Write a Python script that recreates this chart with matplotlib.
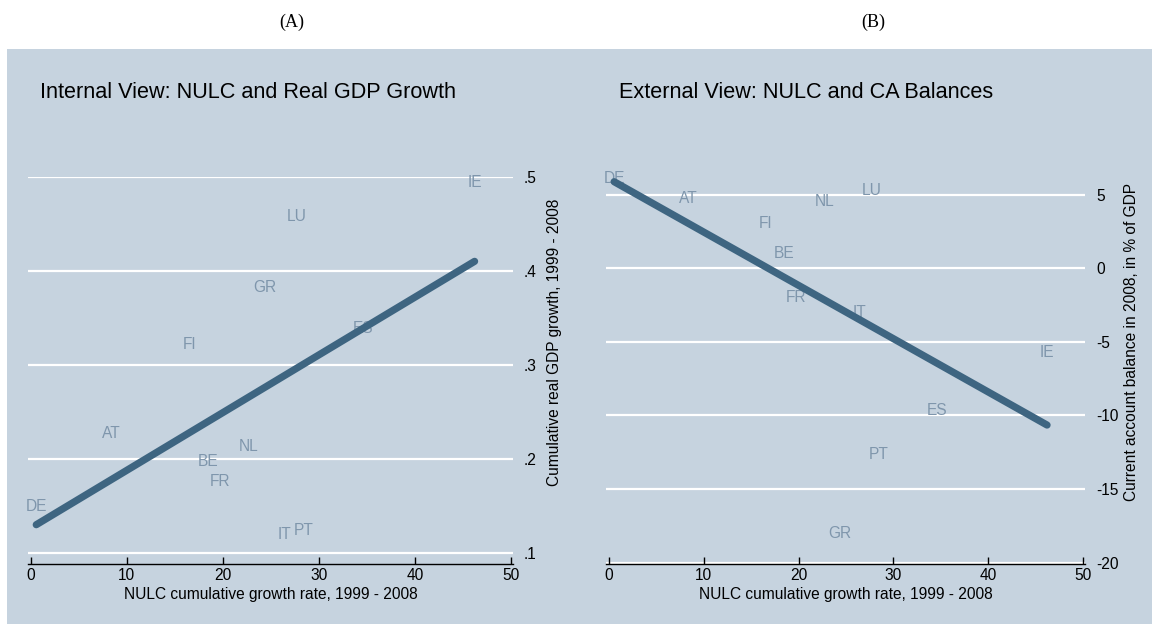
import numpy as np
import matplotlib
matplotlib.use('Agg')
import matplotlib.pyplot as plt
from matplotlib.patches import Rectangle
from matplotlib.ticker import FuncFormatter

countries = ['DE', 'AT', 'BE', 'FR', 'NL', 'IT', 'PT', 'FI', 'GR', 'LU', 'ES', 'IE']
nulc_growth = [0.56, 8.35, 18.5, 19.7, 22.7, 26.4, 28.4, 16.5, 24.4, 27.7, 34.6, 46.2]
gdp_growth = [0.149, 0.227, 0.197, 0.176, 0.213, 0.119, 0.124, 0.322, 0.382, 0.458, 0.339, 0.494]
ca_balance = [6.12, 4.73, 1.02, -1.95, 4.58, -2.97, -12.65, 3.06, -18.05, 5.33, -9.66, -5.74]

x_ticks = [0, 10, 20, 30, 40, 50]
gdp_ticks = [0.1, 0.2, 0.3, 0.4, 0.5]
ca_ticks = [-20, -15, -10, -5, 0, 5]

bg = '#c6d3df'
label_col = '#7f96ac'
fit_col = '#3e6581'

plt.rcParams['font.family'] = ['Liberation Sans', 'DejaVu Sans']

fig = plt.figure(figsize=(11.58, 6.24), dpi=100)
W, H = 1158.0, 624.0
# background of both graph regions, kept behind the axes
fig.patches.append(Rectangle((7 / W, 0), (1152 - 7) / W, (624 - 49) / H,
                             transform=fig.transFigure, facecolor=bg,
                             edgecolor='none', zorder=-10))

fig.text(292 / W, 1 - 22 / H, '(A)', family='Liberation Serif', fontsize=13,
         ha='center', va='center')
fig.text(873 / W, 1 - 22 / H, '(B)', family='Liberation Serif', fontsize=13,
         ha='center', va='center')


def stata_fmt(v, pos):
    s = ('%g' % v)
    if s.startswith('0.'):
        s = s[1:]
    return s


def panel(rect, y, ylim, yticks, ylabel, ylab_pos, title, title_x):
    ax = fig.add_axes(rect)
    ax.set_facecolor('none')
    ax.set_zorder(1)
    for t in yticks:
        ax.axhline(t, color='white', lw=1.6, zorder=1)
    x = np.array(nulc_growth)
    yy = np.array(y)
    b, a = np.polyfit(x, yy, 1)
    xs = np.linspace(x.min(), x.max(), 50)
    ax.plot(xs, a + b * xs, color=fit_col, lw=5.2, solid_capstyle='round', zorder=3)
    for c, xi, yi in zip(countries, x, yy):
        ax.text(xi, yi, c, color=label_col, fontsize=11.2, ha='center', va='center', zorder=2)
    ax.set_xlim(-0.3, 50.2)
    ax.set_ylim(*ylim)
    ax.set_xticks(x_ticks)
    ax.set_yticks(yticks)
    ax.yaxis.set_major_formatter(FuncFormatter(stata_fmt))
    ax.yaxis.tick_right()
    ax.yaxis.set_label_position('right')
    ax.tick_params(axis='y', length=0, pad=8, labelsize=11.2)
    ax.tick_params(axis='x', direction='in', length=5, width=1, pad=3, labelsize=11.2)
    for s in ['top', 'left', 'right']:
        ax.spines[s].set_visible(False)
    ax.spines['bottom'].set_linewidth(1)
    ax.set_xlabel('NULC cumulative growth rate, 1999 - 2008', fontsize=11.2, labelpad=3)
    ax.set_ylabel(ylabel, fontsize=11.2)
    ax.yaxis.set_label_coords(*ylab_pos)
    ax.yaxis.label.set_va('center')
    fig.text(title_x / W, 1 - 93 / H, title, fontsize=15.6, ha='left', va='center')
    return ax


panel([28 / W, 60 / H, 485 / W, 387 / H], gdp_growth, (0.088, 0.5), gdp_ticks,
      'Cumulative real GDP growth, 1999 - 2008', (1.086, 0.574),
      'Internal View: NULC and Real GDP Growth', 40)
panel([606 / W, 60 / H, 479 / W, 389 / H], ca_balance, (-20.1, 6.35), ca_ticks,
      'Current account balance in 2008, in % of GDP', (1.098, 0.572),
      'External View: NULC and CA Balances', 619)

fig.savefig('out.png', dpi=100)
